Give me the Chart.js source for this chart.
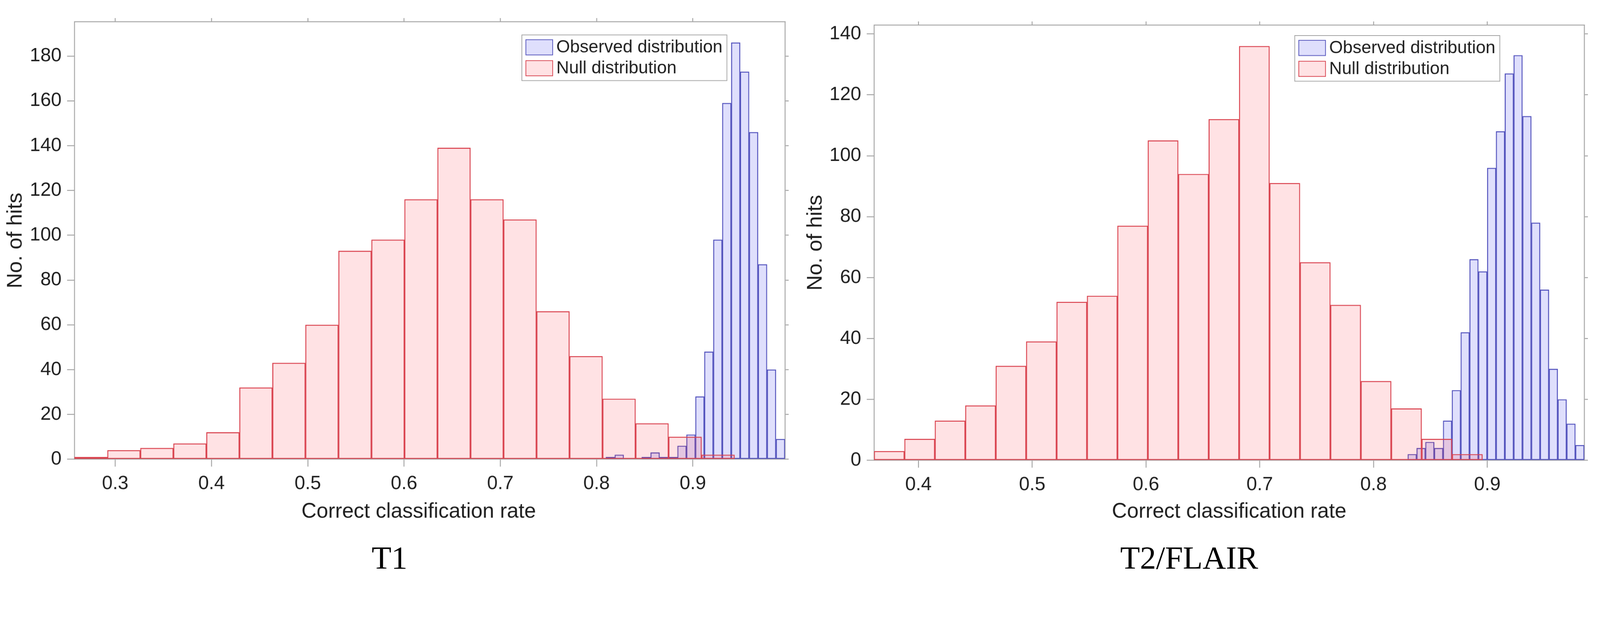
<!DOCTYPE html>
<html>
<head>
<meta charset="utf-8">
<script src="https://cdn.jsdelivr.net/npm/chart.js@4.4.1/dist/chart.umd.min.js"></script>
<style>
html,body{margin:0;padding:0;background:#fff;overflow:hidden;}
#stage{position:absolute;left:0;top:0;width:4366px;height:1584px;transform-origin:0 0;background:#fff;}
.panel{position:absolute;top:0;width:2183px;height:1584px;}
.cap{position:absolute;font-family:"Liberation Serif","Times New Roman",serif;font-size:88px;line-height:1;color:#000;white-space:nowrap;transform:translateX(-50%);}
</style>
</head>
<body>
<div id="stage">
<div class="panel" style="left:0px"><canvas id="c1"></canvas></div>
<div class="panel" style="left:2183px"><canvas id="c2"></canvas></div>
<div class="cap" id="cap1" style="left:1063px;top:1478px"></div>
<div class="cap" id="cap2" style="left:3245px;top:1478px"></div>
</div>
<script>
// ---------------- data ----------------
const seriesNames = ['Observed distribution', 'Null distribution'];
const panelCaptions = ['T1', 'T2/FLAIR'];
const xAxisTitle = 'Correct classification rate';
const yAxisTitle = 'No. of hits';

// T1 panel
const t1XTicks = [0.3, 0.4, 0.5, 0.6, 0.7, 0.8, 0.9];
const t1XTickLabels = ['0.3', '0.4', '0.5', '0.6', '0.7', '0.8', '0.9'];
const t1YTicks = [0, 20, 40, 60, 80, 100, 120, 140, 160, 180];
const t1YTickLabels = ['0', '20', '40', '60', '80', '100', '120', '140', '160', '180'];
const t1NullBinCenters = [0.27470, 0.30899, 0.34328, 0.37757, 0.41186, 0.44615, 0.48044, 0.51473, 0.54902, 0.58331,
                          0.61760, 0.65189, 0.68618, 0.72047, 0.75476, 0.78905, 0.82334, 0.85763, 0.89192, 0.92621];
const t1NullCounts = [1, 4, 5, 7, 12, 32, 43, 60, 93, 98, 116, 139, 116, 107, 66, 46, 27, 16, 10, 2];
const t1ObsBinCenters = [0.81425, 0.82355, 0.83286, 0.84216, 0.85147, 0.86077, 0.87007, 0.87938, 0.88868, 0.89799,
                         0.90729, 0.91659, 0.92590, 0.93520, 0.94451, 0.95381, 0.96311, 0.97242, 0.98172, 0.99103];
const t1ObsCounts = [1, 2, 0, 0, 1, 3, 1, 1, 6, 11, 28, 48, 98, 159, 186, 173, 146, 87, 40, 9];

// T2/FLAIR panel
const t2XTicks = [0.4, 0.5, 0.6, 0.7, 0.8, 0.9];
const t2XTickLabels = ['0.4', '0.5', '0.6', '0.7', '0.8', '0.9'];
const t2YTicks = [0, 20, 40, 60, 80, 100, 120, 140];
const t2YTickLabels = ['0', '20', '40', '60', '80', '100', '120', '140'];
const t2NullBinCenters = [0.37437, 0.40111, 0.42785, 0.45459, 0.48133, 0.50807, 0.53481, 0.56155, 0.58829, 0.61503,
                          0.64177, 0.66851, 0.69525, 0.72199, 0.74873, 0.77547, 0.80221, 0.82895, 0.85569, 0.88243];
const t2NullCounts = [3, 7, 13, 18, 31, 39, 52, 54, 77, 105, 94, 112, 136, 91, 65, 51, 26, 17, 7, 2];
const t2ObsBinCenters = [0.83398, 0.84173, 0.84949, 0.85724, 0.86500, 0.87275, 0.88051, 0.88826, 0.89602, 0.90377,
                         0.91153, 0.91928, 0.92704, 0.93479, 0.94255, 0.95030, 0.95806, 0.96581, 0.97357, 0.98132];
const t2ObsCounts = [2, 4, 6, 4, 13, 23, 42, 66, 62, 96, 108, 127, 133, 113, 78, 56, 30, 20, 12, 5];

// ---------------- page fit ----------------
(function fitStage() {
  const s = Math.min(window.innerWidth / 4366, window.innerHeight / 1584);
  if (isFinite(s) && s > 0 && Math.abs(s - 1) > 0.002) {
    document.getElementById('stage').style.transform = 'scale(' + s + ')';
  }
})();

// ---------------- style ----------------
const FONT = 'Liberation Sans';
const TXT = '#1f1f1f';
const AX = '#a3a3a3';
const BLUE_FILL = 'rgba(40,40,235,0.15)';
const BLUE_EDGE = '#5353bb';
const RED_FILL = 'rgba(255,30,50,0.13)';
const RED_EDGE = '#d8434f';

document.getElementById('cap1').textContent = panelCaptions[0];
document.getElementById('cap2').textContent = panelCaptions[1];

// legend box drawn inside the plot (MATLAB "northeast" style)
const boxLegend = {
  id: 'boxLegend',
  afterDraw(chart) {
    const o = chart.options.plugins.boxLegend;
    if (!o || !o.display) return;
    const ctx = chart.ctx, a = chart.chartArea;
    const ds = chart.data.datasets;
    ctx.save();
    ctx.font = o.fontSize + 'px "' + FONT + '"';
    let tw = 0;
    ds.forEach(d => { tw = Math.max(tw, ctx.measureText(d.label).width); });
    const w = o.padL + o.swW + o.gap + tw + o.padR;
    const h = o.padT * 2 + (ds.length - 1) * o.rowH + o.swH;
    const x0 = a.left + o.left, y0 = a.top + o.top;
    ctx.fillStyle = '#fff';
    ctx.fillRect(x0, y0, w, h);
    ctx.strokeStyle = AX; ctx.lineWidth = 2;
    ctx.strokeRect(x0, y0, w, h);
    ds.forEach((d, i) => {
      const sx = x0 + o.padL, sy = y0 + o.padT + i * o.rowH;
      ctx.fillStyle = d.backgroundColor;
      ctx.fillRect(sx, sy, o.swW, o.swH);
      ctx.strokeStyle = d.borderColor; ctx.lineWidth = 2;
      ctx.strokeRect(sx + 1, sy + 1, o.swW - 2, o.swH - 2);
      ctx.fillStyle = TXT; ctx.textBaseline = 'middle'; ctx.textAlign = 'left';
      ctx.fillText(d.label, sx + o.swW + o.gap, sy + o.swH / 2 + 1);
    });
    ctx.restore();
  }
};

// x-axis title drawn from the scale's title options, with a horizontal offset
const xTitle = {
  id: 'xTitle',
  afterDraw(chart) {
    const o = chart.options.plugins.xTitle;
    if (!o) return;
    const sc = chart.scales.x, t = sc.options.title;
    const ctx = chart.ctx;
    ctx.save();
    ctx.font = t.font.size + 'px "' + FONT + '"';
    ctx.fillStyle = TXT; ctx.textAlign = 'center'; ctx.textBaseline = 'alphabetic';
    ctx.fillText(t.text, (sc.left + sc.right) / 2 + o.shift, o.baseline);
    ctx.restore();
  }
};

function makeChart(id, p) {
  const setX = s => { s.ticks = p.xTicks.map(v => ({ value: v })); };
  const setY = s => { s.ticks = p.yTicks.map(v => ({ value: v })); };
  const gridOpts = len => ({ display: true, drawOnChartArea: false, drawTicks: true, tickLength: len, color: AX, lineWidth: 2.5, offset: false });
  const border = { display: true, color: AX, width: 2.5 };
  const barCommon = { borderWidth: 2, borderSkipped: false, barPercentage: 1, categoryPercentage: 1, grouped: false, yAxisID: 'y' };
  return new Chart(document.getElementById(id), {
    type: 'bar',
    data: {
      datasets: [
        Object.assign({ label: seriesNames[0], xAxisID: 'xTop', order: 1,
          data: p.obsX.map((x, i) => ({ x: x, y: p.obsY[i] })),
          backgroundColor: BLUE_FILL, borderColor: BLUE_EDGE }, barCommon),
        Object.assign({ label: seriesNames[1], xAxisID: 'x', order: 0,
          data: p.nullX.map((x, i) => ({ x: x, y: p.nullY[i] })),
          backgroundColor: RED_FILL, borderColor: RED_EDGE }, barCommon)
      ]
    },
    options: {
      responsive: true, maintainAspectRatio: false, animation: false,
      layout: { padding: 0 },
      plugins: {
        legend: { display: false }, tooltip: { enabled: false },
        boxLegend: Object.assign({ display: true, fontSize: 48, padL: 10, swW: 75, gap: 9, padR: 12, padT: 12, swH: 43.5, rowH: 57 }, p.legend),
        xTitle: { shift: p.titleShift, baseline: 1412 }
      },
      scales: {
        x: {
          type: 'linear', position: 'bottom', min: p.xMin, max: p.xMax, offset: false,
          grid: gridOpts(20), border: border,
          afterBuildTicks: setX,
          ticks: { autoSkip: false, maxRotation: 0, padding: 16, color: TXT, font: { family: FONT, size: 52 },
                   callback: (v, i) => p.xTickLabels[i] },
          title: { display: false, text: xAxisTitle, color: TXT, font: { family: FONT, size: 57 } },
          afterFit: s => { s.height = p.bottomH; }
        },
        xTop: {
          type: 'linear', axis: 'x', position: 'top', min: p.xMin, max: p.xMax, offset: false,
          grid: gridOpts(10), border: border,
          afterBuildTicks: setX,
          ticks: { display: false },
          afterFit: s => { s.height = p.topH; }
        },
        y: {
          type: 'linear', position: 'left', min: 0, max: p.yMax,
          grid: gridOpts(20), border: border,
          afterBuildTicks: setY,
          ticks: { padding: 15, color: TXT, font: { family: FONT, size: 52 }, callback: (v, i) => p.yTickLabels[i] },
          title: { display: true, text: yAxisTitle, color: TXT, font: { family: FONT, size: 58 }, padding: { top: 8, bottom: 0 } },
          afterFit: s => { s.width = p.leftW; }
        },
        yRight: {
          type: 'linear', axis: 'y', position: 'right', min: 0, max: p.yMax,
          grid: gridOpts(10), border: border,
          afterBuildTicks: setY,
          ticks: { display: false },
          afterFit: s => { s.width = p.rightW; }
        }
      }
    },
    plugins: [boxLegend, xTitle]
  });
}

makeChart('c1', {
  obsX: t1ObsBinCenters, obsY: t1ObsCounts, nullX: t1NullBinCenters, nullY: t1NullCounts,
  xMin: 0.2576, xMax: 0.9957, yMax: 195.3,
  xTicks: t1XTicks, xTickLabels: t1XTickLabels, yTicks: t1YTicks, yTickLabels: t1YTickLabels,
  leftW: 203, rightW: 41, topH: 59.3, bottomH: 331.3,
  legend: { left: 1221, top: 36 }, titleShift: -30
});

makeChart('c2', {
  obsX: t2ObsBinCenters, obsY: t2ObsCounts, nullX: t2NullBinCenters, nullY: t2NullCounts,
  xMin: 0.361, xMax: 0.9852, yMax: 142.9,
  xTicks: t2XTicks, xTickLabels: t2XTickLabels, yTicks: t2YTicks, yTickLabels: t2YTickLabels,
  leftW: 202, rightW: 43, topH: 68.5, bottomH: 328.4,
  legend: { left: 1148, top: 28.5 }, titleShift: 0
});
</script>
</body>
</html>
